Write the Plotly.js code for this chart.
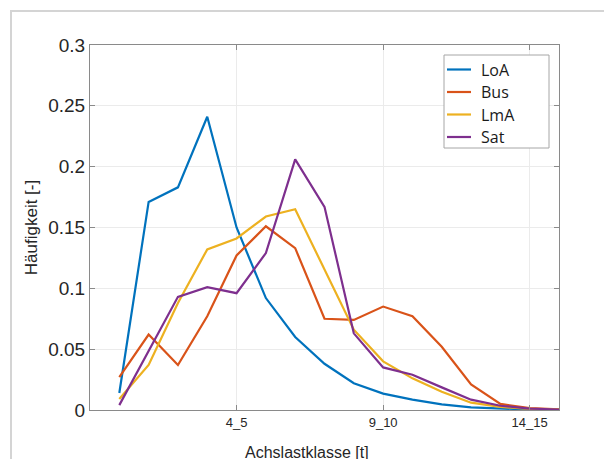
<!DOCTYPE html>
<html>
<head>
<meta charset="utf-8">
<script src="https://cdn.plot.ly/plotly-3.0.1.min.js"></script>
<style>
  html, body { margin: 0; padding: 0; background: #fff; }
  #chart { width: 604px; height: 459px; position: relative; }
  #frame { position: absolute; left: 10px; top: 10px; width: 600px; height: 460px;
           border-left: 2px solid #d4d4d4; border-top: 2px solid #d4d4d4; pointer-events: none; }
</style>
</head>
<body>
<div id="chart"></div>
<div id="frame"></div>
<script>
// Achslastklassen (category index 1..16)
const classIndex = [1, 2, 3, 4, 5, 6, 7, 8, 9, 10, 11, 12, 13, 14, 15, 16];
const tickPositions = [5, 10, 15];
const tickLabels = ["4_5", "9_10", "14_15"];

const loA = [0.014, 0.171, 0.183, 0.241, 0.150, 0.092, 0.060, 0.038, 0.022, 0.0135, 0.0085, 0.0046, 0.0022, 0.0010, 0.0004, 0.0002];
const bus = [0.027, 0.062, 0.037, 0.077, 0.127, 0.151, 0.133, 0.075, 0.074, 0.085, 0.077, 0.052, 0.021, 0.005, 0.0015, 0.0005];
const lmA = [0.009, 0.037, 0.088, 0.132, 0.141, 0.159, 0.165, 0.115, 0.066, 0.040, 0.026, 0.015, 0.006, 0.0025, 0.0010, 0.0003];
const sat = [0.004, 0.048, 0.093, 0.101, 0.096, 0.129, 0.206, 0.167, 0.063, 0.035, 0.029, 0.0186, 0.0085, 0.0035, 0.0012, 0.0004];

const seriesNames = ["LoA", "Bus", "LmA", "Sat"];
const seriesData = [loA, bus, lmA, sat];
const seriesColors = ["#0072BD", "#D95319", "#EDB120", "#7E2F8E"];

const traces = seriesData.map((ys, i) => ({
  x: classIndex,
  y: ys,
  type: "scatter",
  mode: "lines",
  name: seriesNames[i],
  line: { color: seriesColors[i], width: 2.2 }
}));

// plot area geometry (pixels) used to place the legend box
const M = { l: 90, r: 45, t: 45, b: 49 };
const W = 604, H = 459;
const pw = W - M.l - M.r, ph = H - M.t - M.b;
const px = v => (v - M.l) / pw;
const py = v => (H - M.b - v) / ph;

const shapes = [{
  type: "rect", xref: "paper", yref: "paper",
  x0: px(444), x1: px(549), y0: py(148), y1: py(55),
  line: { color: "#a6a6a6", width: 1 }, fillcolor: "#ffffff", layer: "above"
}];
const annotations = [];
seriesNames.forEach((name, i) => {
  const yy = 69.5 + i * 22.5;
  shapes.push({
    type: "line", xref: "paper", yref: "paper",
    x0: px(447), x1: px(471), y0: py(yy), y1: py(yy),
    line: { color: seriesColors[i], width: 2.2 }, layer: "above"
  });
  annotations.push({
    text: name, xref: "paper", yref: "paper",
    x: px(479), y: py(yy), xanchor: "left", yanchor: "middle",
    showarrow: false,
    font: { family: "Open Sans, sans-serif", size: 16, color: "#1a1a1a" }
  });
});

annotations.push({
  text: "Achslastklasse [t]",
  xref: "paper", yref: "paper",
  x: px(307), y: 0, yshift: -42,
  xanchor: "center", yanchor: "middle",
  showarrow: false,
  font: { family: "Liberation Sans, Arial, sans-serif", size: 16, color: "#262626" }
});

const axisCommon = {
  showline: true,
  linecolor: "#8a8a8a",
  linewidth: 1,
  mirror: "ticks",
  ticks: "inside",
  ticklen: 5,
  tickcolor: "#8a8a8a",
  showgrid: true,
  gridcolor: "#ebebeb",
  gridwidth: 1,
  zeroline: false
};

const layout = {
  width: W,
  height: H,
  margin: M,
  paper_bgcolor: "#ffffff",
  plot_bgcolor: "#ffffff",
  showlegend: false,
  xaxis: Object.assign({}, axisCommon, {
    range: [0, 16],
    tickmode: "array",
    tickvals: tickPositions,
    ticktext: tickLabels,
    tickfont: { family: "Liberation Sans, Arial, sans-serif", size: 13, color: "#262626" }
  }),
  yaxis: Object.assign({}, axisCommon, {
    range: [0, 0.3],
    tickmode: "array",
    tickvals: [0, 0.05, 0.1, 0.15, 0.2, 0.25, 0.3],
    ticktext: ["0", "0.05", "0.1", "0.15", "0.2", "0.25", "0.3"],
    tickfont: { family: "Liberation Sans, Arial, sans-serif", size: 19, color: "#262626" },
    title: { text: "Häufigkeit [-]", font: { family: "Liberation Sans, Arial, sans-serif", size: 17, color: "#262626" }, standoff: 6 }
  }),
  shapes: shapes,
  annotations: annotations
};

Plotly.newPlot("chart", traces, layout, { displayModeBar: false, staticPlot: true });
</script>
</body>
</html>
